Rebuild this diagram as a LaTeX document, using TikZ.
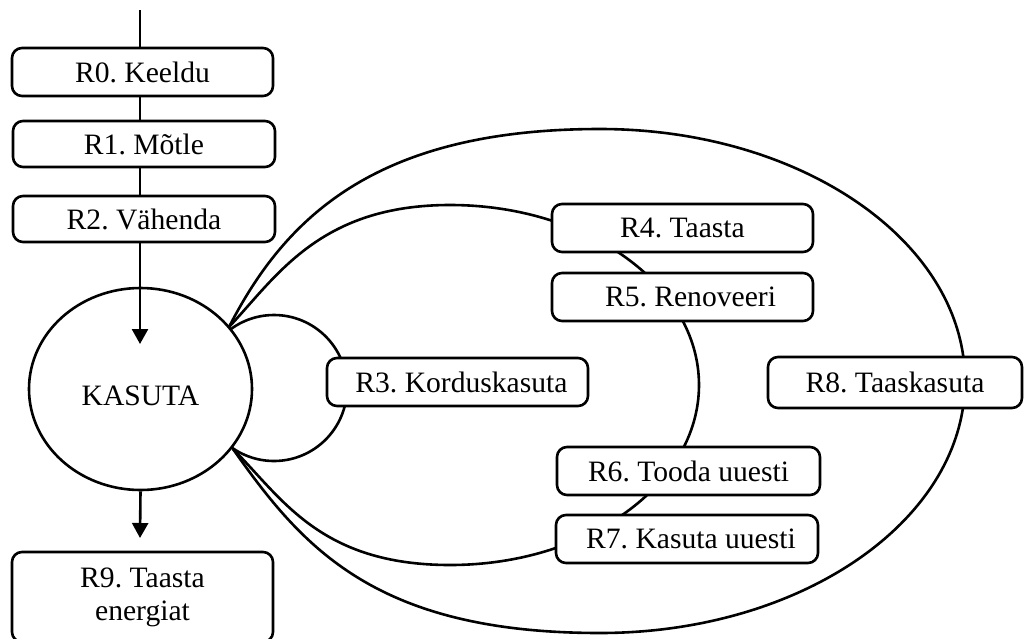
\documentclass[tikz,border=0pt]{standalone}
\usepackage{fontspec}
\setmainfont{Liberation Serif}
\usetikzlibrary{shapes.geometric,arrows.meta}
\frenchspacing
\begin{document}
\begin{tikzpicture}[x=0.5pt,y=-0.5pt,
  ln/.style={line width=1.3pt},
  box/.style={ln,draw,fill=white,rounded corners=5pt,inner sep=0pt,minimum height=24pt,minimum width=130.5pt,font=\fontsize{14.8pt}{16.5pt}\selectfont},
  arr/.style={ln,-{Triangle[length=7.5pt,width=8pt]}}]
\fill[white] (0,0) rectangle (1024,638);
\useasboundingbox (0,0) rectangle (1024,638);
\begin{scope}
\clip (0,0) rectangle (1024,638);
% key points on KASUTA
\coordinate (P) at (229,327);
\coordinate (Q) at (233,449);
% outer loop (R8)
\draw[ln] (P) .. controls (285,218) and (375,129) .. (600,129)
  arc[start angle=90,end angle=-90,x radius=182.5pt,y radius=126pt]
  .. controls (375,633) and (302,547) .. (Q);
% inner loop (R4-R7)
\draw[ln] (P) .. controls (277,276) and (320,205) .. (450,205)
  arc[start angle=90,end angle=-90,x radius=124.5pt,y radius=90pt]
  .. controls (320,565) and (282,498) .. (Q);
% small loop (R3)
\node[ln,draw,circle,minimum size=73pt,inner sep=0pt] (c3) at (274,388) {};
% KASUTA
\node[ln,draw,fill=white,ellipse,minimum width=111.5pt,minimum height=101pt,inner sep=0pt,
  text height=16.5pt,font=\fontsize{14.8pt}{17.5pt}\selectfont] (kas) at (140.5,389) {KASUTA};
% left column boxes
\node[box] (r0) at (142.5,72) {R0. Keeldu};
\node[box,minimum width=131pt,minimum height=23pt] (r1) at (144,144) {R1. Mõtle};
\node[box,minimum width=131pt,minimum height=23pt] (r2) at (144,219) {R2. Vähenda};
\node[box,minimum height=45pt,align=center] (r9) at (142.5,597) {R9. Taasta\\energiat};
% right boxes
\node[box] (r3) at (457.5,382) {\hspace*{4pt}R3. Korduskasuta};
\node[box] (r4) at (682.5,228) {R4. Taasta};
\node[box] (r5) at (682.5,297) {\hspace*{8pt}R5. Renoveeri};
\node[box,minimum width=131.5pt] (r6) at (688.5,471) {R6. Tooda uuesti};
\node[box,minimum width=131pt] (r7) at (687,539) {\hspace*{4pt}R7. Kasuta uuesti};
\node[box,minimum width=127pt,minimum height=25.5pt] (r8) at (895,382.5) {R8. Taaskasuta};
% connectors
\coordinate (top) at (140,10);
\coordinate (a1) at (140,344);
\coordinate (a2) at (140,538);
\draw[ln] (top) -- (top |- r0.north);
\draw[ln] (r0.south -| top) -- (r1.north -| top);
\draw[ln] (r1.south -| top) -- (r2.north -| top);
\draw[arr] (r2.south -| top) -- (a1);
\draw[arr] (kas.south) -- (a2);
\end{scope}
\end{tikzpicture}
\end{document}
